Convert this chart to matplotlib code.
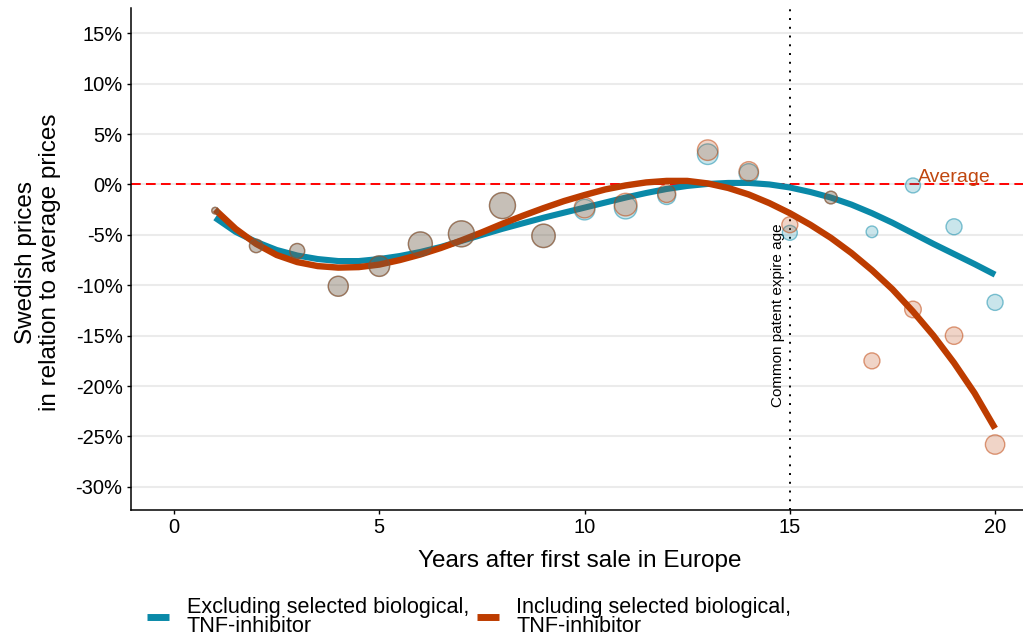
import numpy as np
import matplotlib
matplotlib.use("Agg")
import matplotlib.pyplot as plt
from matplotlib.lines import Line2D
from matplotlib.ticker import FuncFormatter

plt.rcParams['font.family'] = ['Liberation Sans', 'DejaVu Sans']

# years after first sale in Europe
years = np.arange(1, 21)

# price gap vs. European average (%), per year
excl_pts = [-2.6, -6.1, -6.6, -10.1, -8.1, -5.9, -4.9, -2.1, -5.1, -2.5,
            -2.3, -1.1, 3.0, 1.1, -4.8, -1.3, -4.7, -0.1, -4.2, -11.7]
incl_pts = [-2.6, -6.1, -6.6, -10.1, -8.1, -5.9, -4.9, -2.1, -5.1, -2.3,
            -2.0, -0.9, 3.4, 1.3, -4.0, -1.3, -17.5, -12.4, -15.0, -25.8]

# number of products behind each point (relative weight)
excl_w = [1.1, 4.5, 5.6, 10.0, 10.6, 14.4, 16.9, 16.9, 13.7, 10.6,
          12.8, 8.1, 10.6, 9.4, 5.6, 4.0, 3.4, 5.6, 6.4, 6.4]
incl_w = [1.1, 4.5, 5.6, 10.0, 10.6, 14.4, 16.9, 16.9, 13.7, 10.6,
          12.8, 8.1, 10.6, 9.4, 6.4, 4.0, 6.4, 6.9, 7.6, 9.4]

# smoothed trend, read every half year from 1 to 20
fit_years = np.arange(1, 20.5, 0.5)
excl_fit = [-3.3, -4.7, -5.7, -6.5, -7.05, -7.4, -7.6, -7.6, -7.4, -7.1,
            -6.7, -6.2, -5.6, -5.0, -4.4, -3.85, -3.3, -2.8, -2.3, -1.8,
            -1.3, -0.85, -0.45, -0.15, 0.05, 0.15, 0.15, 0.0, -0.3, -0.75,
            -1.3, -2.0, -2.85, -3.8, -4.85, -5.9, -6.9, -7.9, -8.95]
incl_fit = [-2.5, -4.4, -5.9, -7.0, -7.7, -8.1, -8.25, -8.2, -7.95, -7.5,
            -6.95, -6.3, -5.55, -4.75, -3.9, -3.1, -2.35, -1.65, -1.05, -0.5,
            -0.1, 0.2, 0.35, 0.35, 0.1, -0.35, -1.0, -1.85, -2.85, -4.0,
            -5.3, -6.8, -8.5, -10.4, -12.6, -15.0, -17.7, -20.7, -24.2]

labels = ['Excluding selected biological,\nTNF-inhibitor',
          'Including selected biological,\nTNF-inhibitor']

blue = '#0A89A8'
orange = '#BD3C00'

fig = plt.figure(figsize=(10.23, 6.4), dpi=100)
ax = fig.add_axes([0.128, 0.203, 0.872, 0.7845])

ax.set_xlim(-1.05, 20.68)
ax.set_ylim(-32.3, 17.5)
ax.set_yticks(np.arange(-30, 16, 5))
ax.set_xticks([0, 5, 10, 15, 20])
ax.yaxis.set_major_formatter(FuncFormatter(lambda v, p: f"{v:.0f}%"))
ax.grid(axis='y', color='#EBEBEB', lw=1.5, zorder=0)
ax.set_axisbelow(True)
for s in ['top', 'right']:
    ax.spines[s].set_visible(False)
for s in ['left', 'bottom']:
    ax.spines[s].set_linewidth(1.1)
ax.tick_params(labelsize=14.5, length=3, width=1, pad=3)

ax.axhline(0, color='#FF0000', lw=1.4, dashes=(5, 2.7), zorder=2)
ax.axvline(15, color='black', lw=1.4, ls=(0, (1, 3.5)), zorder=2)
ax.text(14.72, -3.9, 'Common patent expire age', rotation=90,
        ha='center', va='top', fontsize=11)
ax.text(19.0, 0.2, 'Average', color='#C0470F', fontsize=14,
        ha='center', va='baseline')

ax.plot(fit_years, excl_fit, color=blue, lw=4.4, solid_capstyle='butt', zorder=3)
ax.plot(fit_years, incl_fit, color=orange, lw=4.6, solid_capstyle='butt', zorder=3)

for y, w, c in [(excl_pts, excl_w, blue), (incl_pts, incl_w, orange)]:
    ax.scatter(years, y, s=np.array(w) * 20.7, facecolor=c, alpha=0.22,
               edgecolor='none', zorder=4)
    ax.scatter(years, y, s=np.array(w) * 20.7, facecolor='none',
               edgecolor=c, alpha=0.5, lw=1, zorder=4)

fig.text(0.037, 0.590, 'Swedish prices\nin relation to average prices',
         rotation=90, ha='center', va='center', multialignment='center',
         fontsize=17.5, linespacing=1.15)
fig.text(0.567, 0.114, 'Years after first sale in Europe', ha='center',
         va='baseline', fontsize=17.5)

handles = [Line2D([], [], color=blue, lw=5, solid_capstyle='butt'),
           Line2D([], [], color=orange, lw=5, solid_capstyle='butt')]
leg = fig.legend(handles, labels, loc='center left',
                 bbox_to_anchor=(0.1437, 0.036), ncol=2, frameon=False,
                 borderaxespad=0, borderpad=0, fontsize=15.6,
                 handlelength=1.03, handletextpad=0.8, columnspacing=0.35)
for t in leg.get_texts():
    t.set_linespacing(0.93)

fig.savefig('out.png', dpi=100)
